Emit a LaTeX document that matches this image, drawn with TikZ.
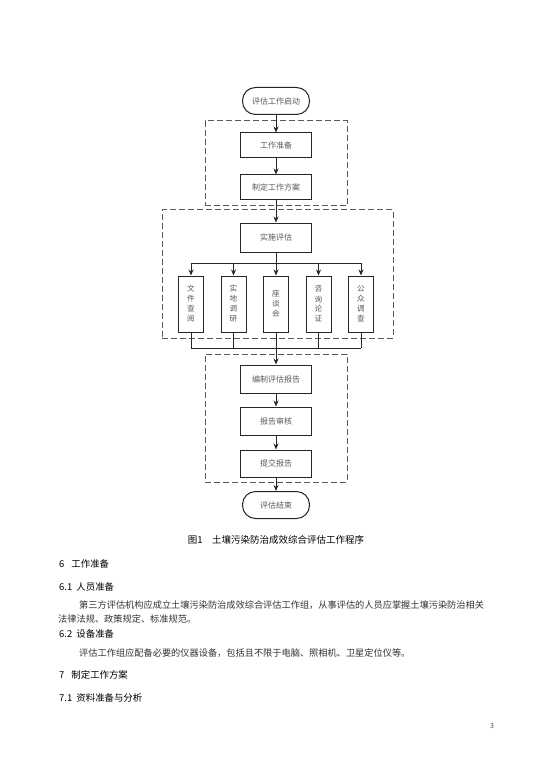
\documentclass[tikz,border=0pt]{standalone}
\usepackage{fontspec}
\newfontfamily\cjk{Noto Sans CJK SC}
\usetikzlibrary{arrows.meta}
\begin{document}
\begin{tikzpicture}[x=1pt,y=-1pt,
  box/.style={draw=black!85, line width=1pt, minimum width=71pt, inner sep=0pt, font=\cjk\fontsize{8}{9}\selectfont, text=black!65},
  term/.style={box, rounded corners=13pt, minimum width=67pt, minimum height=27pt},
  vbox/.style={box, minimum width=25pt, minimum height=56pt, align=center, font=\cjk\fontsize{7.6}{10}\selectfont},
  grp/.style={draw=black!65, dash pattern=on 6pt off 3pt, line width=1pt, inner sep=0pt},
  arr/.style={draw=black!85, line width=1pt, -{Stealth[length=6pt,width=5pt]}},
  ln/.style={draw=black!85, line width=1pt},
  body/.style={anchor=west, inner sep=0pt, font=\cjk\fontsize{9.2}{12}\selectfont, text=black!80},
  head/.style={anchor=west, inner sep=0pt, font=\cjk\fontsize{9.4}{12}\selectfont, text=black}
]
\useasboundingbox[fill=white] (0,0) rectangle (537,759);

% dashed groups
\node[grp, minimum width=142pt, minimum height=85pt] (g1) at (276,163.5) {};
\node[grp, minimum width=231pt, minimum height=128pt] (g2) at (277.5,274) {};
\node[grp, minimum width=142pt, minimum height=128pt] (g3) at (276,418) {};

% main column
\node[term] (start) at (276,101) {评估工作启动};
\node[box, minimum height=25pt] (prep) at (276,145.5) {工作准备};
\node[box, minimum height=25pt] (plan) at (276,187.5) {制定工作方案};
\node[box, minimum height=29pt] (impl) at (276,237.5) {实施评估};
\node[box, minimum height=28pt] (rep) at (276,379) {编制评估报告};
\node[box, minimum height=28pt] (rev) at (276,421) {报告审核};
\node[box, minimum height=27pt] (sub) at (276,463.5) {提交报告};
\node[term] (end) at (276,505) {评估结束};

% branch boxes
\node[vbox] (m1) at (191,304) {文\\件\\查\\阅};
\node[vbox] (m2) at (233.5,304) {实\\地\\调\\研};
\node[vbox] (m3) at (276,304) {座\\谈\\会};
\node[vbox] (m4) at (318.5,304) {咨\\询\\论\\证};
\node[vbox] (m5) at (361,304) {公\\众\\调\\查};

\coordinate (t1) at (191,263);
\coordinate (t2) at (233.5,263);
\coordinate (t3) at (276,263);
\coordinate (t4) at (318.5,263);
\coordinate (t5) at (361,263);
\coordinate (u1) at (191,348);
\coordinate (u2) at (233.5,348);
\coordinate (u3) at (276,348);
\coordinate (u4) at (318.5,348);
\coordinate (u5) at (361,348);

\draw[arr] (start) -- (prep);
\draw[arr] (prep) -- (plan);
\draw[arr] (plan) -- (impl);
\draw[ln] (impl) -- (t3);
\draw[ln] (t1) -- (t5);
\foreach \i in {1,...,5} {
  \draw[arr] (t\i) -- (m\i);
  \draw[ln] (m\i) -- (u\i);
}
\draw[ln] (u1) -- (u5);
\draw[arr] (u3) -- (rep);
\draw[arr] (rep) -- (rev);
\draw[arr] (rev) -- (sub);
\draw[arr] (sub) -- (end);

% caption
\node[inner sep=0pt, font=\cjk\fontsize{9.5}{12}\selectfont] (cap) at (276,540) {图1\hspace{1em}土壤污染防治成效综合评估工作程序};

% text
\node[head] (s6) at (59,564) {6\hspace{0.75em}工作准备};
\node[head] (s61) at (59,587) {6.1\hspace{0.45em}人员准备};
\node[body] (p1) at (79,605) {\XeTeXlinebreaklocale "zh"\XeTeXlinebreakskip=0pt plus 1pt\hbox to 427pt{第三方评估机构应成立土壤污染防治成效综合评估工作组，从事评估的人员应掌握土壤污染防治相关}};
\node[body] (p2) at (58,619) {法律法规、政策规定、标准规范。};
\node[head] (s62) at (59,634) {6.2\hspace{0.45em}设备准备};
\node[body] (p3) at (79,653) {评估工作组应配备必要的仪器设备，包括且不限于电脑、照相机、卫星定位仪等。};
\node[head] (s7) at (59,675) {7\hspace{0.75em}制定工作方案};
\node[head] (s71) at (59,698) {7.1\hspace{0.45em}资料准备与分析};
\node[inner sep=0pt, font=\cjk\fontsize{7}{8}\selectfont, text=black!70] (pg) at (492,726) {3};
\end{tikzpicture}
\end{document}
